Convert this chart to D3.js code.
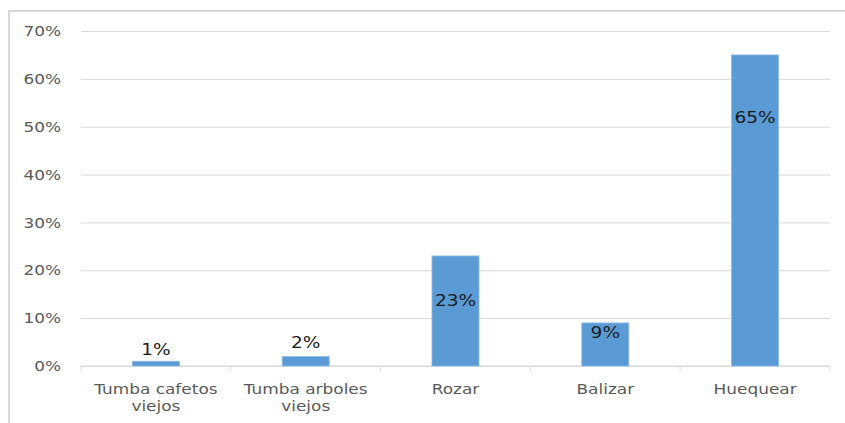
<!DOCTYPE html>
<html>
<head>
<meta charset="utf-8">
<script src="https://cdn.jsdelivr.net/npm/d3@7"></script>
<style>
  html, body { margin: 0; padding: 0; background: #fff; }
  svg { display: block; }
  text { font-family: "DejaVu Sans", Verdana, sans-serif; }
</style>
</head>
<body>
<svg id="chart" width="845" height="423"></svg>
<script>
// Activities and their share of responses (%)
const categories = [
  ["Tumba cafetos", "viejos"],
  ["Tumba arboles", "viejos"],
  ["Rozar"],
  ["Balizar"],
  ["Huequear"]
];
const values = [1, 2, 23, 9, 65];
const yTicks = [0, 10, 20, 30, 40, 50, 60, 70];

// Data-label placement relative to each bar's top (px, label centre)
const labelShift = [-12, -14, 44, 9, 62];

const W = 845, H = 423;
const margin = { left: 81, right: 15, top: 31, bottom: 57 };
const STRETCH = 1.16; // wide lettering

const svg = d3.select("#chart");

// Chart frame
svg.append("rect")
  .attr("x", 9).attr("y", 11)
  .attr("width", 900).attr("height", 500)
  .attr("fill", "#fff")
  .attr("stroke", "#d9d9d9")
  .attr("stroke-width", 2);

const keys = categories.map(c => c.join(" "));

const x = d3.scaleBand()
  .domain(keys)
  .range([margin.left, W - margin.right])
  .paddingInner(0.686)
  .paddingOuter(0.343);

const y = d3.scaleLinear()
  .domain([0, 70])
  .range([H - margin.bottom, margin.top]);

// Horizontal gridlines and percentage labels
const yAxis = d3.axisLeft(y)
  .tickValues(yTicks)
  .tickSize(-(W - margin.left - margin.right))
  .tickPadding(20 / STRETCH)
  .tickFormat(d => d + "%");

const gy = svg.append("g")
  .attr("transform", `translate(${margin.left},0)`)
  .call(yAxis);
gy.select(".domain").remove();
gy.selectAll(".tick line").attr("stroke", "#d9d9d9").attr("stroke-width", 1);
gy.selectAll(".tick text")
  .attr("fill", "#595959")
  .attr("transform", `scale(${STRETCH},1)`)
  .style("font-size", "14.6px");

// Category axis: baseline, boundary ticks, wrapped labels
const step = x.step();
const x0 = x.range()[0];
const gx = svg.append("g");
gx.append("line")
  .attr("x1", x.range()[0]).attr("x2", x.range()[1])
  .attr("y1", y(0)).attr("y2", y(0))
  .attr("stroke", "#d9d9d9");
gx.selectAll("line.tick")
  .data(d3.range(keys.length + 1))
  .join("line")
  .attr("class", "tick")
  .attr("x1", i => x0 + i * step).attr("x2", i => x0 + i * step)
  .attr("y1", y(0)).attr("y2", y(0) + 5)
  .attr("stroke", "#d9d9d9");

const labels = gx.selectAll("text.cat")
  .data(categories)
  .join("text")
  .attr("class", "cat")
  .attr("text-anchor", "middle")
  .attr("fill", "#595959")
  .style("font-size", "14.6px")
  .attr("transform", (d, i) =>
    `translate(${x(keys[i]) + x.bandwidth() / 2},${y(0) + 28}) scale(${STRETCH},1)`);
labels.selectAll("tspan")
  .data(d => d)
  .join("tspan")
  .attr("x", 0)
  .attr("dy", (d, i) => i === 0 ? 0 : 17)
  .text(d => d);

// Bars
svg.append("g")
  .selectAll("rect")
  .data(values)
  .join("rect")
  .attr("x", (d, i) => x(keys[i]))
  .attr("width", x.bandwidth())
  .attr("y", d => y(d))
  .attr("height", d => y(0) - y(d))
  .attr("fill", "#5b9bd5")
  .attr("stroke", "#8fbbe6")
  .attr("stroke-width", 0.8);

// Value labels
svg.append("g")
  .selectAll("text")
  .data(values)
  .join("text")
  .attr("text-anchor", "middle")
  .attr("transform", (d, i) =>
    `translate(${x(keys[i]) + x.bandwidth() / 2},${y(d) + labelShift[i]}) scale(${STRETCH},1)`)
  .attr("dy", "0.36em")
  .attr("fill", "#1a1a1a")
  .style("font-size", "16px")
  .text(d => d + "%");
</script>
</body>
</html>
